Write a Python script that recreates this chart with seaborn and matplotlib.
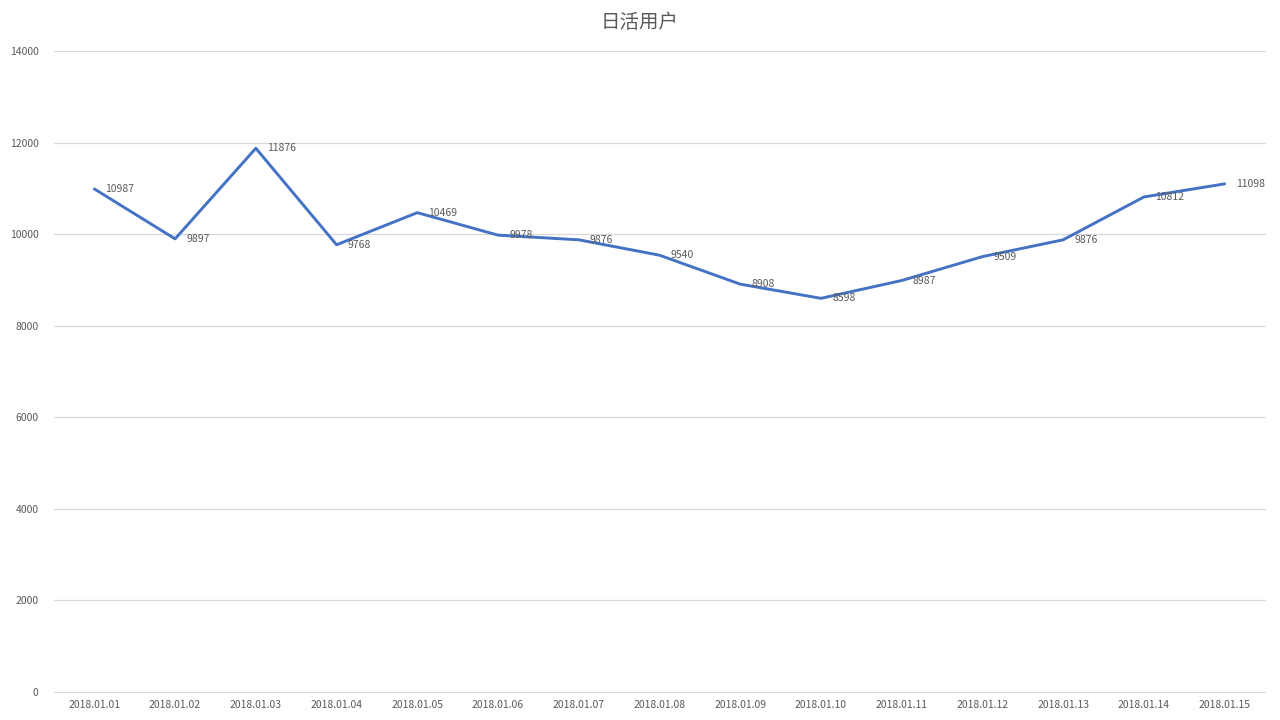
import matplotlib
matplotlib.use('Agg')

import pandas as pd
import seaborn as sns
import matplotlib.pyplot as plt

# === Data ===
dates = ['2018.01.01', '2018.01.02', '2018.01.03', '2018.01.04', '2018.01.05',
         '2018.01.06', '2018.01.07', '2018.01.08', '2018.01.09', '2018.01.10',
         '2018.01.11', '2018.01.12', '2018.01.13', '2018.01.14', '2018.01.15']
users = [10987, 9897, 11876, 9768, 10469, 9978, 9876, 9540, 8908, 8598,
         8987, 9509, 9876, 10812, 11098]
y_ticks = [0, 2000, 4000, 6000, 8000, 10000, 12000, 14000]

df = pd.DataFrame({'date': dates, 'users': users})

sns.set_theme(style='white')
plt.rcParams['font.family'] = ['Noto Sans CJK SC', 'DejaVu Sans']

TEXT = '#595959'
GRID = '#d9d9d9'
LINE = '#4472c4'

fig = plt.figure(figsize=(12.8, 7.2), dpi=100)
ax = fig.add_axes([54 / 1280, 1 - 692 / 720, (1265 - 54) / 1280, (692 - 51) / 720])

sns.lineplot(data=df, x='date', y='users', ax=ax, color=LINE, linewidth=2.1,
             sort=False, zorder=3)

# data labels to the right of each point
for i, v in enumerate(users):
    ax.annotate(str(v), (i, v), xytext=(8, 0), textcoords='offset points',
                ha='left', va='center', fontsize=7.5, color=TEXT, zorder=4)

ax.set_xlim(-0.5, len(dates) - 0.5)
ax.set_ylim(0, 14000)
ax.set_yticks(y_ticks)
ax.set_yticklabels([str(t) for t in y_ticks])
ax.grid(axis='y', color=GRID, linewidth=0.9, zorder=0)
ax.grid(axis='x', visible=False)
for gl in ax.get_ygridlines():
    gl.set_clip_on(False)
for s in ax.spines.values():
    s.set_visible(False)
ax.tick_params(axis='both', length=0, labelsize=7.5, labelcolor=TEXT)
ax.tick_params(axis='y', pad=11)
ax.tick_params(axis='x', pad=6)
ax.set_xlabel('')
ax.set_ylabel('')

fig.text(0.5, 1 - 22 / 720, '日活用户', ha='center', va='center',
         fontsize=14, color=TEXT)

plt.savefig('out.png', dpi=100)
plt.close()
